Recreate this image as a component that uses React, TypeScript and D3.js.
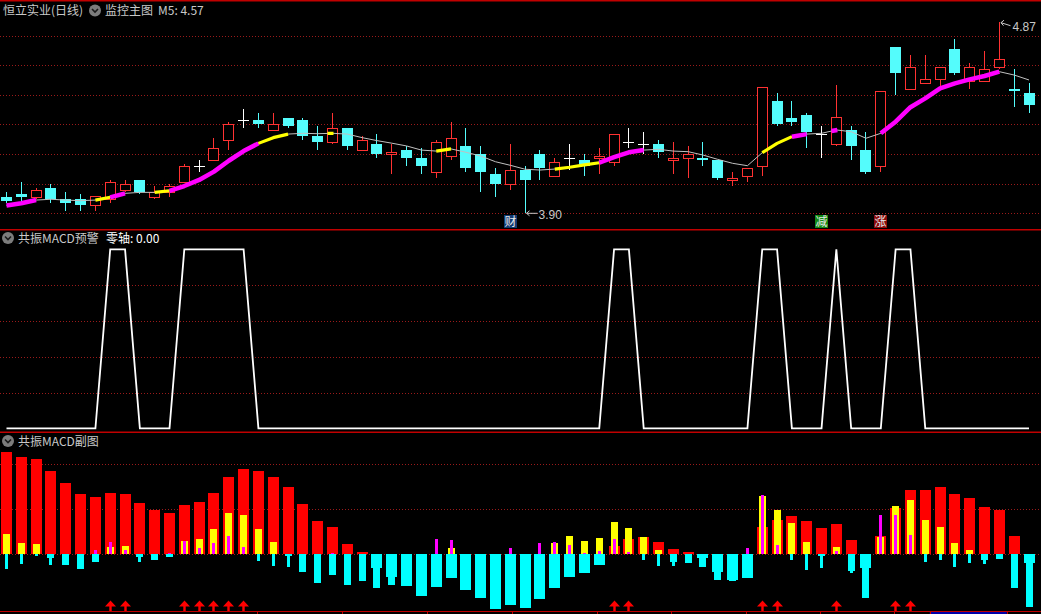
import React from 'react';
import * as d3 from 'd3';

// ---------- DATA ----------
const opens = [3.98, 4.00, 3.98, 4.03, 3.97, 3.97, 3.94, 3.97, 4.02, 4.07,
  3.98, 4.01, 4.06, 4.14, 4.17, 4.27, 4.37, 4.37, 4.32, 4.38,
  4.37, 4.29, 4.26, 4.33, 4.22, 4.25, 4.20, 4.22, 4.18, 4.11,
  4.19, 4.24, 4.20, 4.10, 4.05, 4.12, 4.20, 4.09, 4.18, 4.17,
  4.18, 4.16, 4.26, 4.25, 4.25, 4.17, 4.18, 4.18, 4.17, 4.07,
  4.09, 4.14, 4.47, 4.38, 4.40, 4.30, 4.25, 4.32, 4.22, 4.14,
  4.74, 4.53, 4.56, 4.58, 4.73, 4.57, 4.57, 4.64, 4.53, 4.51];
const closes = [3.96, 3.98, 4.02, 3.97, 3.95, 3.94, 3.99, 4.06, 4.05, 4.01,
  4.01, 4.04, 4.14, 4.14, 4.23, 4.35, 4.37, 4.35, 4.35, 4.34,
  4.29, 4.26, 4.33, 4.24, 4.27, 4.20, 4.21, 4.18, 4.14, 4.26,
  4.28, 4.13, 4.11, 4.05, 4.12, 4.07, 4.13, 4.16, 4.18, 4.14,
  4.19, 4.30, 4.26, 4.25, 4.21, 4.18, 4.20, 4.17, 4.08, 4.08,
  4.13, 4.54, 4.35, 4.36, 4.31, 4.30, 4.39, 4.24, 4.11, 4.52,
  4.61, 4.64, 4.58, 4.64, 4.61, 4.64, 4.63, 4.68, 4.52, 4.45];
const highs = [4.01, 4.06, 4.03, 4.05, 4.01, 4.00, 3.99, 4.07, 4.07, 4.07,
  4.04, 4.05, 4.15, 4.17, 4.28, 4.36, 4.43, 4.41, 4.41, 4.38,
  4.38, 4.34, 4.41, 4.33, 4.29, 4.30, 4.25, 4.24, 4.23, 4.27,
  4.36, 4.33, 4.24, 4.13, 4.25, 4.14, 4.22, 4.18, 4.25, 4.20,
  4.23, 4.30, 4.33, 4.31, 4.27, 4.26, 4.24, 4.26, 4.17, 4.11,
  4.13, 4.54, 4.51, 4.47, 4.41, 4.34, 4.55, 4.34, 4.31, 4.52,
  4.74, 4.70, 4.70, 4.64, 4.78, 4.66, 4.72, 4.87, 4.63, 4.56];
const lows = [3.95, 3.96, 3.97, 3.95, 3.91, 3.91, 3.91, 3.95, 4.01, 4.00,
  3.97, 3.98, 4.06, 4.11, 4.17, 4.22, 4.33, 4.33, 4.32, 4.33,
  4.27, 4.22, 4.25, 4.22, 4.22, 4.18, 4.10, 4.14, 4.10, 4.08,
  4.17, 4.11, 4.01, 3.98, 4.02, 3.90, 4.07, 4.09, 4.12, 4.09,
  4.10, 4.14, 4.23, 4.20, 4.18, 4.10, 4.08, 4.14, 4.07, 4.04,
  4.06, 4.09, 4.34, 4.34, 4.23, 4.18, 4.24, 4.17, 4.10, 4.11,
  4.50, 4.53, 4.56, 4.54, 4.60, 4.53, 4.57, 4.63, 4.44, 4.41];

// average line
const maLine = [3.940, 3.951, 3.967, 3.971, 3.967, 3.964, 3.967, 3.981, 4.001, 4.006,
  4.006, 4.014, 4.038, 4.069, 4.111, 4.166, 4.215, 4.254, 4.283, 4.301,
  4.305, 4.303, 4.305, 4.301, 4.283, 4.268, 4.255, 4.241, 4.220, 4.215,
  4.226, 4.209, 4.190, 4.161, 4.143, 4.123, 4.119, 4.124, 4.133, 4.145,
  4.156, 4.184, 4.209, 4.220, 4.224, 4.215, 4.212, 4.195, 4.173, 4.153,
  4.141, 4.207, 4.254, 4.288, 4.301, 4.305, 4.322, 4.313, 4.280, 4.305,
  4.364, 4.437, 4.482, 4.533, 4.558, 4.578, 4.595, 4.617, 4.600, 4.575];
// segment state between point k and k+1: M = strong (magenta), Y = yellow, G = plain
const maSegState = 'MMGGGGYMGGYMMMMMMYYGGGGGGGGGGYGGGGGGGYYYMMMGGGGGGGGYYMGGGGGMMMMMMMMGG'.split('');
const maDots = [{ i: 22, s: 'Y' }, { i: 56, s: 'M' }];
const m5Value = 4.57;

const priceGrid = [3.90, 4.05, 4.20, 4.35, 4.50, 4.65, 4.80];

const markers = [
  { i: 34, text: '财', kind: 'cai' },
  { i: 55, text: '减', kind: 'jian' },
  { i: 59, text: '涨', kind: 'zhang' },
];

// 共振MACD预警 signal
const signal = [0, 0, 0, 0, 0, 0, 0, 1, 1, 0,
  0, 0, 1, 1, 1, 1, 1, 0, 0, 0,
  0, 0, 0, 0, 0, 0, 0, 0, 0, 0,
  0, 0, 0, 0, 0, 0, 0, 0, 0, 0,
  0, 1, 1, 0, 0, 0, 0, 0, 0, 0,
  0, 1, 1, 0, 0, 0, 1, 0, 0, 0,
  1, 1, 0, 0, 0, 0, 0, 0, 0, 0];
const signalGrid = [0.2, 0.4, 0.6, 0.8];

// 共振MACD副图 three histograms (x1000)
const barsA = [113, 108, 106, 92, 79, 67, 63, 68, 67, 57,
  49, 46, 54, 58, 68, 86, 94, 92, 86, 74,
  56, 37, 30, 11, 2, -16, -26, -36, -47, -37,
  -27, -40, -49, -61, -57, -60, -50, -38, -26, -21,
  -12, 9, 17, 19, 13, 6, 2, -4, -20, -29,
  -27, 30, 38, 42, 37, 29, 33, 16, -16, 20,
  51, 71, 71, 74, 67, 62, 52, 49, 20, -10];
const barsB = [22, 12, 11, -4, -12, -17, -9, 8, 9, -3,
  -7, -3, 14, 17, 28, 46, 43, 28, 13, -2,
  -20, -32, -23, -34, -30, -38, -34, -22, -28, -17,
  7, -22, -28, -33, -28, -31, -22, 12, 20, 14,
  18, 36, 29, 19, 4, -9, -10, -14, -29, -30,
  -13, 64, 49, 34, 13, -2, 8, -19, -49, 19,
  53, 60, 38, 30, 12, 4, -7, -6, -38, -59];
const barsC = [-17, -11, -2, -12, -9, -9, 4, 13, 4, -9,
  -3, 1, 14, 7, 12, 20, 8, -8, -13, -14,
  -11, -17, 1, -17, -13, -11, -13, -11, -13, 17,
  16, -9, -11, -13, 7, -11, 12, 13, 10, 1,
  3, 17, 2, -7, -13, -13, -6, -9, -11, -13,
  7, 66, 10, -7, -18, -16, 3, -21, -11, 43,
  43, 21, -9, -7, -14, -10, -11, -4, -13, -13];
const macdGrid = [0, 50, 100];

// bottom time-axis separators (in bar-index units)
const axisTicks = [16.92, 22.66, 28.39, 34.13, 39.86, 44.86, 49.92, 54.91, 59.9, 62.3, 67.5];
const axisSpan = [62.3, 67.5];

// ---------- STYLE ----------
const C = {
  bg: '#000000',
  frame: '#c00000',
  grid: '#9a1a1a',
  up: '#ff3232',
  down: '#54fcfc',
  doji: '#ffffff',
  ma: '#c0c0c0',
  M: '#ff00ff',
  Y: '#ffff00',
  text: '#c8c8c8',
  barRed: '#ff0000',
  barCyan: '#00ffff',
  barYellow: '#ffff00',
  barMag: '#ff00ff',
};
const markerBg: Record<string, string> = { cai: '#123a72', jian: '#138a13', zhang: '#8a0c0c' };
const FONT = '"Noto Sans CJK SC", "Liberation Sans", sans-serif';
const NUMFONT = '"Liberation Sans", Arial, sans-serif';

function Icon({ cx, cy }: { cx: number; cy: number }) {
  return (
    <g>
      <circle cx={cx} cy={cy} r={6} fill="#7c7c7c" />
      <path d={`M${cx - 3},${cy - 1.5} L${cx},${cy + 1.5} L${cx + 3},${cy - 1.5}`} fill="none" stroke="#1a1a1a" strokeWidth={1.6} />
    </g>
  );
}

export default function App() {
  const W = 1041, H = 614;
  const N = closes.length;
  const x = d3.scaleLinear().domain([0, N - 1]).range([6.5, 1029]);
  const yP = d3.scaleLinear().domain([d3.min(lows)!, d3.max(highs)!]).range([213.3, 21.7]);
  const yS = d3.scaleLinear().domain([0, 1]).range([428.3, 249.3]);
  const yB = d3.scaleLinear().domain([0, 100]).range([554, 464]);

  const leftOf = (i: number) => Math.round(x(i) - 5.5);
  const ry = (v: number) => Math.round(yP(v));

  // candles
  const candles = d3.range(N).map((i) => {
    const o = opens[i], c = closes[i], h = highs[i], l = lows[i];
    const L = leftOf(i);
    const cx = L + 5.5;
    if (c > o) {
      const top = ry(c), bot = ry(o);
      return (
        <g key={i} shapeRendering="crispEdges">
          <line x1={cx} x2={cx} y1={ry(h)} y2={top} stroke={C.up} />
          <line x1={cx} x2={cx} y1={bot} y2={ry(l)} stroke={C.up} />
          <rect x={L + 0.5} y={top + 0.5} width={10} height={Math.max(1, bot - top)} fill={C.bg} stroke={C.up} />
        </g>
      );
    } else if (c < o) {
      const top = ry(o), bot = ry(c);
      return (
        <g key={i} shapeRendering="crispEdges">
          <line x1={cx} x2={cx} y1={ry(h)} y2={ry(l)} stroke={C.down} />
          <rect x={L} y={top} width={11} height={Math.max(1, bot - top)} fill={C.down} />
        </g>
      );
    }
    const yc = ry(c) + 0.5;
    return (
      <g key={i} shapeRendering="crispEdges">
        <line x1={cx} x2={cx} y1={ry(h)} y2={ry(l)} stroke={C.doji} />
        <line x1={L} x2={L + 11} y1={yc} y2={yc} stroke={C.doji} />
      </g>
    );
  });

  // MA line
  const maPts = maLine.map((v, i) => [x(i), yP(v)] as [number, number]);
  const lineGen = d3.line();
  const runs: { s: string; pts: [number, number][] }[] = [];
  maSegState.forEach((s, k) => {
    if (s === 'G') return;
    const last = runs[runs.length - 1];
    if (last && last.s === s && last.pts[last.pts.length - 1] === maPts[k]) {
      last.pts.push(maPts[k + 1]);
    } else {
      runs.push({ s, pts: [maPts[k], maPts[k + 1]] });
    }
  });
  const interpY = (px: number) => {
    const k = Math.max(0, Math.min(N - 2, Math.floor(x.invert(px))));
    const t = (px - maPts[k][0]) / (maPts[k + 1][0] - maPts[k][0]);
    return maPts[k][1] + t * (maPts[k + 1][1] - maPts[k][1]);
  };

  // high / low labels
  const hiIdx = d3.maxIndex(highs);
  const loIdx = d3.minIndex(lows);
  const hx = leftOf(hiIdx) + 5.5, hy = yP(highs[hiIdx]);
  const lx = leftOf(loIdx) + 5.5, ly = yP(lows[loIdx]);

  // signal line
  const sigPath = d3.line<number>().x((_, i) => x(i)).y((d) => yS(d))(signal)!;

  const bar = (i: number, v: number, w: number, pos: string, key: string) => {
    const L = leftOf(i) + (11 - w) / 2;
    const y0 = yB(0), y1 = yB(v);
    if (v === 0) return null;
    return <rect key={key} x={L} y={Math.round(Math.min(y0, y1))} width={w} height={Math.round(Math.abs(y1 - y0))} fill={v > 0 ? pos : C.barCyan} shapeRendering="crispEdges" />;
  };

  return (
    <svg width={W} height={H} style={{ position: 'fixed', left: 0, top: 0, background: C.bg, display: 'block' }}>
      <rect x={0} y={0} width={W} height={H} fill={C.bg} />

      {/* ===== top panel ===== */}
      <rect x={0} y={0} width={W} height={1.5} fill={C.frame} />
      {priceGrid.map((p) => (
        <line key={p} x1={0} x2={W} y1={Math.round(yP(p)) + 0.5} y2={Math.round(yP(p)) + 0.5} stroke={C.grid} strokeDasharray="1 2" />
      ))}
      {candles}
      <path d={lineGen(maPts)!} fill="none" stroke={C.ma} strokeWidth={1} />
      {runs.map((r, k) => (
        <path key={k} d={lineGen(r.pts)!} fill="none" stroke={r.s === 'M' ? C.M : C.Y} strokeWidth={r.s === 'M' ? 4.5 : 3.2} strokeLinejoin="round" />
      ))}
      {maDots.map((d) => {
        const x2 = x(d.i) + 1, x1 = x(d.i) - 5;
        return <line key={d.i} x1={x1} x2={x2} y1={interpY(x1)} y2={interpY(x2)} stroke={d.s === 'M' ? C.M : C.Y} strokeWidth={d.s === 'M' ? 4.5 : 3.2} />;
      })}

      {/* high label */}
      <g stroke={C.text} strokeWidth={1} fill="none">
        <line x1={hx + 1.5} y1={hy + 1} x2={hx + 11} y2={hy + 4} />
        <polyline points={`${hx + 4.5},${hy - 1.5} ${hx + 1.5},${hy + 1} ${hx + 4},${hy + 4}`} />
      </g>
      <text x={hx + 13} y={hy + 9} fill={C.text} fontSize={12} fontFamily={NUMFONT}>{highs[hiIdx].toFixed(2)}</text>
      {/* low label */}
      <g stroke={C.text} strokeWidth={1} fill="none">
        <line x1={lx + 1} y1={ly} x2={lx + 12} y2={ly} />
        <polyline points={`${lx + 4},${ly - 2.5} ${lx + 1},${ly} ${lx + 4},${ly + 2.5}`} />
      </g>
      <text x={lx + 13} y={ly + 6} fill={C.text} fontSize={12} fontFamily={NUMFONT}>{lows[loIdx].toFixed(2)}</text>

      {markers.map((m) => {
        const L = leftOf(m.i) - 1;
        return (
          <g key={m.i}>
            <rect x={L} y={215} width={13} height={13} fill={markerBg[m.kind]} />
            <text x={L + 6.5} y={226} fill="#e8e8e8" fontSize={12} fontFamily={FONT} textAnchor="middle">{m.text}</text>
          </g>
        );
      })}

      <text x={3} y={15} fill={C.text} fontSize={12} fontFamily={FONT}>恒立实业(日线)</text>
      <Icon cx={95} cy={10.5} />
      <text x={105} y={15} fill={C.text} fontSize={12} fontFamily={FONT}>监控主图</text>
      <text x={158} y={15} fill={C.text} fontSize={12} fontFamily={FONT}>{`M5: ${m5Value.toFixed(2)}`}</text>

      {/* ===== middle panel ===== */}
      <rect x={0} y={229} width={W} height={1.5} fill={C.frame} />
      {signalGrid.map((g) => (
        <line key={g} x1={0} x2={W} y1={Math.round(yS(g)) + 0.5} y2={Math.round(yS(g)) + 0.5} stroke={C.grid} strokeDasharray="1 2" />
      ))}
      <path d={sigPath} fill="none" stroke="#ffffff" strokeWidth={1.8} />
      <Icon cx={8} cy={238} />
      <text x={18} y={243} fill={C.text} fontSize={12} fontFamily={FONT}>共振MACD预警</text>
      <text x={106} y={243} fill="#ffffff" fontSize={12} fontFamily={FONT}>零轴: 0.00</text>

      {/* ===== bottom panel ===== */}
      <rect x={0} y={431.5} width={W} height={1.5} fill={C.frame} />
      {macdGrid.map((g) => (
        <line key={g} x1={0} x2={W} y1={Math.round(yB(g)) + 0.5} y2={Math.round(yB(g)) + 0.5} stroke={C.grid} strokeDasharray="1 2" />
      ))}
      {barsA.map((v, i) => bar(i, v, 11, C.barRed, 'a' + i))}
      {barsB.map((v, i) => bar(i, v, 7, C.barYellow, 'b' + i))}
      {barsC.map((v, i) => bar(i, v, 3, C.barMag, 'c' + i))}
      {signal.map((s, i) => {
        if (!s) return null;
        const cx = leftOf(i) + 5.5;
        return (
          <path key={'ar' + i} fill={C.barRed}
            d={`M${cx},600.5 L${cx + 5.5},606.5 L${cx + 1.2},606.5 L${cx + 1.2},611 L${cx - 1.2},611 L${cx - 1.2},606.5 L${cx - 5.5},606.5 Z`} />
        );
      })}
      <Icon cx={8} cy={441} />
      <text x={18} y={446} fill={C.text} fontSize={12} fontFamily={FONT}>共振MACD副图</text>

      {/* bottom axis */}
      <rect x={0} y={611} width={W} height={1} fill={C.frame} />
      <rect x={x(axisSpan[0])} y={612} width={x(axisSpan[1]) - x(axisSpan[0])} height={2} fill="#0000a8" />
      {axisTicks.map((t) => (
        <line key={t} x1={Math.round(x(t)) + 0.5} x2={Math.round(x(t)) + 0.5} y1={611} y2={614} stroke={C.frame} />
      ))}
    </svg>
  );
}
